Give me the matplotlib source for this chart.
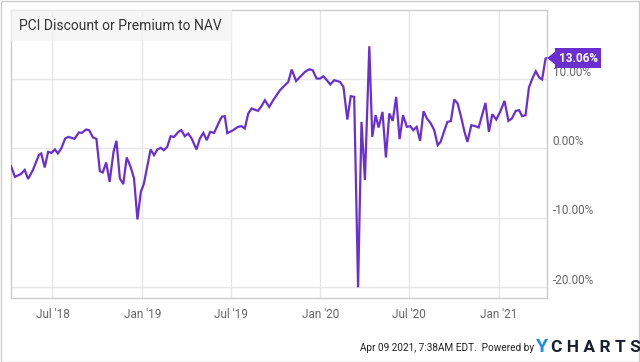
import numpy as np
import pandas as pd
import matplotlib
matplotlib.use("Agg")
import matplotlib.pyplot as plt
import matplotlib.dates as mdates
from matplotlib.patches import Rectangle, Polygon
from matplotlib.transforms import ScaledTranslation

plt.rcParams['font.family'] = ['Roboto', 'DejaVu Sans']

# PCI discount/premium to NAV (days after 2018-04-07, percent)
start = pd.Timestamp('2018-04-07')
day_offsets = [0, 8, 20, 28, 35, 45, 57, 62, 69, 76, 83, 90, 96, 103, 111, 118,
               130, 139, 145, 154, 160, 168, 175, 182, 188, 195, 202, 210, 216, 223,
               230, 237, 245, 252, 259, 266, 272, 279, 286, 293, 300, 307, 313, 320,
               327, 334, 343, 349, 356, 363, 370, 380, 387, 394, 401, 408, 416, 428,
               432, 438, 443, 455, 465, 472, 479, 486, 493, 506, 513, 520, 529, 537,
               551, 561, 568, 575, 584, 592, 602, 611, 618, 626, 633, 640, 647, 654,
               662, 674, 681, 689, 696, 703, 711, 718, 725, 734, 740, 747, 753, 761,
               768, 775, 782, 789, 796, 803, 811, 818, 824, 831, 838, 845, 852, 860,
               867, 874, 880, 888, 894, 901, 908, 915, 922, 929, 935, 943, 951, 958,
               965, 972, 979, 986, 994, 1002, 1011, 1019, 1026, 1034, 1041, 1047,
               1054, 1061, 1068, 1075, 1082, 1088, 1095, 1098]
premium = [-2.55, -4.1, -3.7, -3.1, -4.4, -3.1, -0.97, -0.72, -2.74, -0.49, -0.63,
           -0.14, -0.72, 0.0, 1.44, 1.67, 1.39, 2.31, 2.25, 2.74, 2.64, 1.59, 1.39,
           -3.28, -3.46, -2.02, -4.82, -0.5, 1.1, -4.33, -5.15, -1.3, -2.66, -4.33,
           -10.25, -6.26, -5.15, -2.66, -0.14, -0.97, -0.14, 0.09, -0.25, 0.23, 1.77,
           1.67, 2.4, 2.64, 1.77, 2.16, 1.44, -0.14, 1.44, 2.25, 1.2, 2.4, 2.25, 4.08,
           4.59, 4.66, 2.21, 2.64, 3.12, 3.22, 2.89, 5.05, 5.77, 5.43, 6.1, 6.97, 6.0,
           6.97, 8.41, 9.13, 9.61, 11.4, 9.75, 10.33, 11.05, 11.44, 11.3, 10.1, 10.1,
           10.43, 9.86, 9.24, 9.86, 9.61, 8.89, 4.18, 7.55, 7.45, -20.06, 3.84, -4.57,
           14.76, 1.67, 4.8, 3.03, 5.28, -1.3, 5.05, 3.98, 7.45, 1.34, 4.8, 3.12, 3.22,
           2.64, 3.12, 1.1, 5.38, 4.33, 3.61, 2.64, 0.48, 0.95, 2.64, 3.84, 3.94, 7.07,
           6.49, 4.56, 2.4, 0.95, 3.36, 3.22, 3.03, 4.8, 6.58, 2.4, 4.95, 4.18, 5.28,
           6.87, 3.98, 4.33, 5.43, 5.53, 4.66, 4.8, 8.8, 10.1, 11.15, 10.25, 9.96,
           12.99, 13.06]
dates = start + pd.to_timedelta(day_offsets, unit='D')

y_ticks = [-20, -10, 0, 10]
x_ticks = ['2018-07-01', '2019-01-01', '2019-07-01', '2020-01-01', '2020-07-01', '2021-01-01']
x_labels = ["Jul '18", "Jan '19", "Jul '19", "Jan '20", "Jul '20", "Jan '21"]

line_color = '#6b2fcf'
grid_color = '#e6e6e6'
text_grey = '#666666'

fig = plt.figure(figsize=(6.4, 3.62), dpi=100)
W, H = 640, 362
ax = fig.add_axes([11 / W, 1 - 298 / H, (547 - 11) / W, (298 - 10) / H])

ax.plot(dates, premium, color=line_color, lw=1.6, solid_joinstyle='miter', zorder=3)

ax.set_xlim(dates[0], dates[-1])
ax.set_ylim(-21.6, 20.0)
ax.set_yticks(y_ticks)
ax.set_yticklabels([f'{v:.2f}%' for v in y_ticks])
ax.set_xticks(pd.to_datetime(x_ticks))
ax.set_xticklabels(x_labels)
ax.yaxis.tick_right()
ax.tick_params(axis='both', length=0, labelsize=8.5, labelcolor=text_grey)
ax.tick_params(axis='y', pad=4)
ax.tick_params(axis='x', pad=7)
for lab in ax.get_yticklabels():
    lab.set_transform(lab.get_transform() + ScaledTranslation(0, 6 / 72, fig.dpi_scale_trans))
ax.grid(True, color=grid_color, lw=1)
ax.set_axisbelow(True)
for sp in ax.spines.values():
    sp.set_color('#cccccc')
    sp.set_linewidth(1)

# title box
ax.add_patch(Rectangle((0, 1 - 31 / 288), 221 / 536, 31 / 288, transform=ax.transAxes,
                       facecolor='#f3f3f3', alpha=0.75, edgecolor='none', zorder=4))
ax.text(8 / 536, 1 - 16 / 288, 'PCI Discount or Premium to NAV', transform=ax.transAxes,
        fontsize=10, color='#333333', va='center', ha='left', zorder=5)

# last value flag
last_y = premium[-1]
ax.annotate(f'{last_y:.2f}%', xy=(dates[-1], last_y), xytext=(8.5, 0),
            textcoords='offset points', color='white', fontsize=8.5, fontweight='bold',
            va='center', ha='left', annotation_clip=False, zorder=6,
            bbox=dict(boxstyle='square,pad=0.3', fc=line_color, ec='none'))
px, py = ax.transData.transform((mdates.date2num(dates[-1]), last_y))
fig.patches.append(Polygon([(px, py), (px + 10, py + 8), (px + 10, py - 8)], closed=True,
                           transform=None, facecolor=line_color, edgecolor='none'))

# footer
fig.text(534 / W, 1 - 348 / H, 'Apr 09 2021, 7:38AM EDT.  Powered by', fontsize=7.2,
         color='#222222', ha='right', va='center')
fig.text(536 / W, 1 - 347 / H, 'Y', fontsize=14, fontweight='bold', color='#1e8fe1',
         ha='left', va='center')
fig.text(551 / W, 1 - 347 / H, 'C H A R T S', fontsize=12.5, fontweight='bold',
         color='#18202e', ha='left', va='center')

fig.patches.append(Rectangle((0.5 / W, 0.5 / H), 1 - 1.5 / W, 1 - 1.5 / H,
                             transform=fig.transFigure, fill=False,
                             edgecolor='#cccccc', lw=1))

fig.savefig('out.png', dpi=100)
